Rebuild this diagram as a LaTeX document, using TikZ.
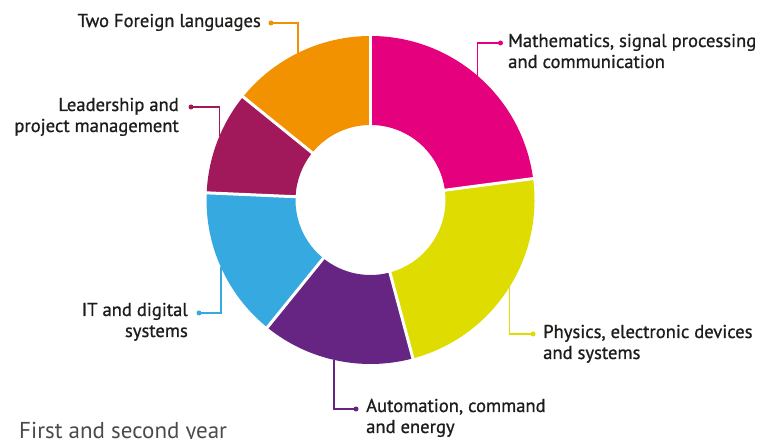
\documentclass[tikz,border=0pt]{standalone}
\usepackage{fontspec}
\setmainfont{PT Sans}
\newfontfamily\lblfont[FakeBold=0.9]{PT Sans}
\definecolor{cpink}{HTML}{E5007D}
\definecolor{cyellow}{HTML}{DEDC00}
\definecolor{cpurple}{HTML}{662483}
\definecolor{cblue}{HTML}{36A9E1}
\definecolor{cmaroon}{HTML}{A2195B}
\definecolor{corange}{HTML}{F39200}
\definecolor{txt}{HTML}{1D1D1B}
\definecolor{subt}{HTML}{4A4A4A}
\begin{document}
\begin{tikzpicture}[x=1pt,y=1pt,
  lbl/.style={font=\lblfont\fontsize{18.6}{21}\selectfont, text=txt, inner sep=0pt},
  dotn/.style={circle, inner sep=0pt, minimum size=5pt},
  lead/.style={line width=1.5pt},
  sep/.style={white, line width=3pt}]
\useasboundingbox (0,0) rectangle (763,439);
\coordinate (c) at (370.5,239);
\begin{scope}[shift={(c)}]
  \fill[cpink]   (90:164) arc[start angle=90,end angle=7.5,radius=164] -- (7.5:75) arc[start angle=7.5,end angle=90,radius=75] -- cycle;
  \fill[cyellow] (7.5:164) arc[start angle=7.5,end angle=-75,radius=164] -- (-75:75) arc[start angle=-75,end angle=7.5,radius=75] -- cycle;
  \fill[cpurple] (-75:164) arc[start angle=-75,end angle=-129,radius=164] -- (-129:75) arc[start angle=-129,end angle=-75,radius=75] -- cycle;
  \fill[cblue]   (-129:164) arc[start angle=-129,end angle=-182.5,radius=164] -- (-182.5:75) arc[start angle=-182.5,end angle=-129,radius=75] -- cycle;
  \fill[cmaroon] (177.5:164) arc[start angle=177.5,end angle=141,radius=164] -- (141:75) arc[start angle=141,end angle=177.5,radius=75] -- cycle;
  \fill[corange] (141:164) arc[start angle=141,end angle=90,radius=164] -- (90:75) arc[start angle=90,end angle=141,radius=75] -- cycle;
  \foreach \a in {90,7.5,-75,-129,177.5,141} \draw[sep] (\a:70) -- (\a:170);
  \coordinate (eO) at (116.2:164);
  \coordinate (eP) at (49.3:164);
  \coordinate (eM) at (157.1:164);
  \coordinate (eB) at (-155.7:164);
  \coordinate (eU) at (-102.9:164);
  \coordinate (eY) at (-32.0:164);
\end{scope}
% dots
\node[dotn, fill=corange] (dO) at (271,416) {};
\node[dotn, fill=cpink]   (dP) at (500.5,396) {};
\node[dotn, fill=cmaroon] (dM) at (191,332) {};
\node[dotn, fill=cblue]   (dB) at (199,126) {};
\node[dotn, fill=cpurple] (dU) at (356,30) {};
\node[dotn, fill=cyellow] (dY) at (533,105) {};
% leaders
\draw[lead, corange] (dO.center) -| (eO);
\draw[lead, cpink]   (dP.center) -| (eP);
\draw[lead, cmaroon] (dM.center) -| (eM);
\draw[lead, cblue]   (dB.center) -| (eB);
\draw[lead, cpurple] (dU.center) -| (eU);
\draw[lead, cyellow] (dY.center) -| (eY);
% labels (multi-line: base anchor = last line)
\node[lbl, anchor=base east] (tO) at (261,412) {Two Foreign languages};
\node[lbl, anchor=base east, align=right] (tM) at (179,307) {Leadership and\\project management};
\node[lbl, anchor=base east, align=right] (tB) at (188,102) {IT and digital\\systems};
\node[lbl, anchor=base west, align=left] (tP) at (508,371) {Mathematics, signal processing\\and communication};
\node[lbl, anchor=base west, align=left] (tY) at (543,80) {Physics, electronic devices\\and systems};
\node[lbl, anchor=base west, align=left] (tU) at (366,6) {Automation, command\\and energy};
\node[font=\fontsize{23}{27}\selectfont, text=subt, inner sep=0pt, anchor=base west] (tF) at (19,1) {First and second year};
\end{tikzpicture}
\end{document}
